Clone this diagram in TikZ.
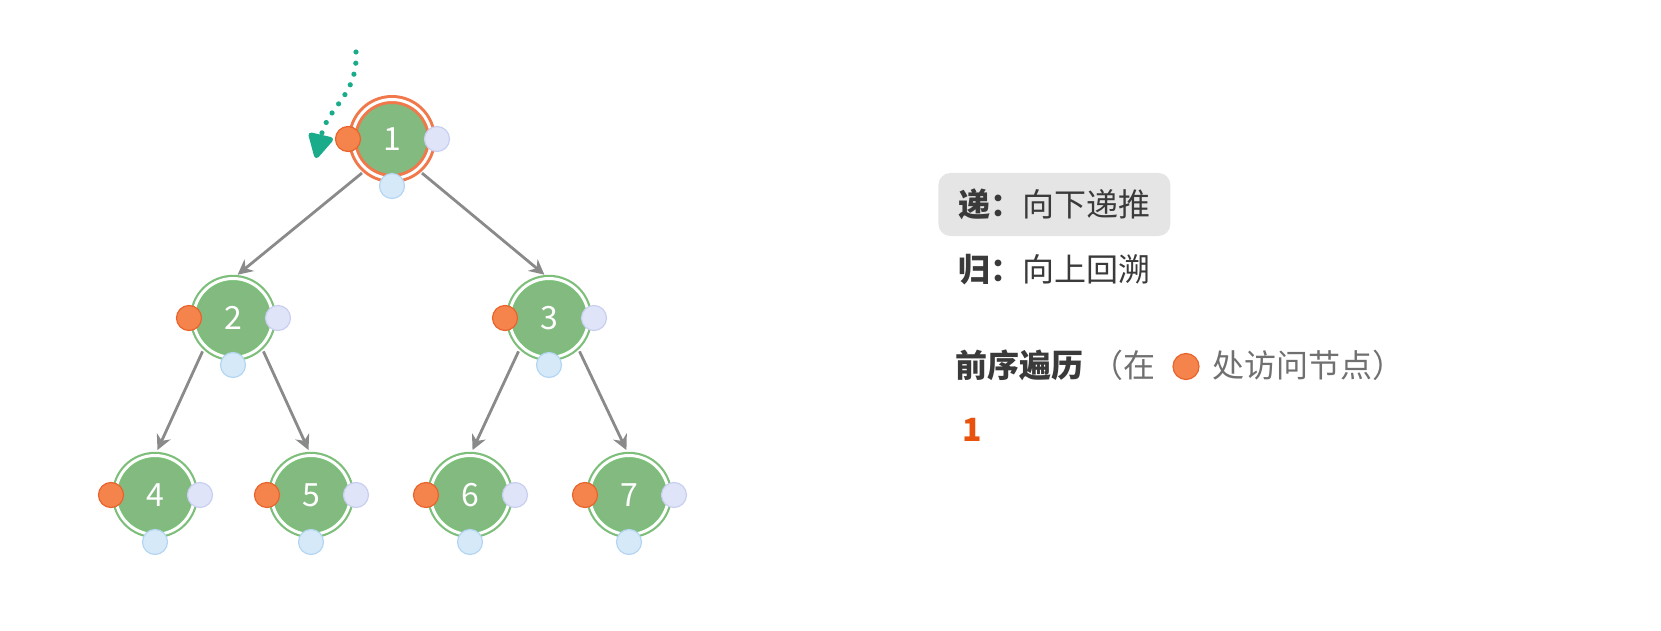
\documentclass[tikz,border=0pt]{standalone}
\usepackage{fontspec}
\newfontfamily\cjk{Noto Sans CJK SC}
\usetikzlibrary{positioning,arrows.meta}

\definecolor{nodegreen}{RGB}{130,186,128}
\definecolor{ringgreen}{RGB}{125,190,122}
\definecolor{ringorange}{RGB}{240,120,75}
\definecolor{dotorange}{RGB}{245,132,76}
\definecolor{dotorangeb}{RGB}{232,100,44}
\definecolor{dotlav}{RGB}{224,228,248}
\definecolor{dotlavb}{RGB}{201,207,240}
\definecolor{dotblue}{RGB}{214,233,248}
\definecolor{dotblueb}{RGB}{180,214,242}
\definecolor{edgegray}{RGB}{138,138,138}
\definecolor{walkteal}{RGB}{26,172,138}
\definecolor{boxgray}{RGB}{229,229,229}
\definecolor{textdark}{RGB}{58,58,58}
\definecolor{textgray}{RGB}{112,112,112}
\definecolor{resorange}{RGB}{232,82,12}

\begin{document}
\begin{tikzpicture}[x=0.5pt,y=-0.5pt,on grid,
  font=\cjk\fontsize{16pt}{19pt}\selectfont,
  main/.style = {circle, fill=nodegreen, draw=ringgreen, double=white, double distance=1.5pt, line width=1.1pt, minimum size=39.5pt, inner sep=0pt, outer sep=0pt, text=white},
  cur/.style = {main, draw=ringorange, line width=1.5pt},
  predot/.style = {circle, fill=dotorange, draw=dotorangeb, line width=0.6pt, minimum size=12.5pt, inner sep=0pt},
  indot/.style = {predot, fill=dotlav, draw=dotlavb},
  postdot/.style = {predot, fill=dotblue, draw=dotblueb},
  link/.style = {draw=edgegray, line width=1.4pt, -{Stealth[length=7.5pt,width=7.5pt]}, shorten <=3pt, shorten >=3pt},
  hl/.style = {fill=boxgray, rounded corners=6pt, inner xsep=10pt, inner ysep=0pt, minimum height=31.5pt, text=textdark}]
\useasboundingbox (0,0) rectangle (1661,631);

\node[cur] (n1) at (392,139) {1};
\node[main] (n2) [below left=89.5pt and 79.5pt of n1] {2};
\node[main] (n3) [below right=89.5pt and 78.5pt of n1] {3};
\node[main] (n4) [below left=88.5pt and 39pt of n2] {4};
\node[main] (n5) [below right=88.5pt and 39pt of n2] {5};
\node[main] (n6) [below left=88.5pt and 39.5pt of n3] {6};
\node[main] (n7) [below right=88.5pt and 40pt of n3] {7};

% dots: before / between / after the children
\node[predot] (pre1) at ([xshift=-22pt]n1.center) {};
\node[indot] (in1) at ([xshift=22.5pt]n1.center) {};
\node[postdot] (post1) at ([yshift=-23.5pt]n1.center) {};
\node[predot] (pre2) at ([xshift=-22pt]n2.center) {};
\node[indot] (in2) at ([xshift=22.5pt]n2.center) {};
\node[postdot] (post2) at ([yshift=-23.5pt]n2.center) {};
\node[predot] (pre3) at ([xshift=-22pt]n3.center) {};
\node[indot] (in3) at ([xshift=22.5pt]n3.center) {};
\node[postdot] (post3) at ([yshift=-23.5pt]n3.center) {};
\node[predot] (pre4) at ([xshift=-22pt]n4.center) {};
\node[indot] (in4) at ([xshift=22.5pt]n4.center) {};
\node[postdot] (post4) at ([yshift=-23.5pt]n4.center) {};
\node[predot] (pre5) at ([xshift=-22pt]n5.center) {};
\node[indot] (in5) at ([xshift=22.5pt]n5.center) {};
\node[postdot] (post5) at ([yshift=-23.5pt]n5.center) {};
\node[predot] (pre6) at ([xshift=-22pt]n6.center) {};
\node[indot] (in6) at ([xshift=22.5pt]n6.center) {};
\node[postdot] (post6) at ([yshift=-23.5pt]n6.center) {};
\node[predot] (pre7) at ([xshift=-22pt]n7.center) {};
\node[indot] (in7) at ([xshift=22.5pt]n7.center) {};
\node[postdot] (post7) at ([yshift=-23.5pt]n7.center) {};

\path
    (n1.-130) edge[link] (n2.north)
    (n1.-50) edge[link] (n3.north)
    (n2.-135) edge[link] (n4.north)
    (n2.-45) edge[link] (n5.north)
    (n3.-135) edge[link] (n6.north)
    (n3.-45) edge[link] (n7.north);

% walk pointer
\coordinate (from) at (356,52);
\coordinate (tip) at (316,158);
\draw[walkteal, line width=2.6pt, line cap=round, dash pattern=on 0pt off 5.6pt,
  -{Triangle[length=13.5pt,width=13.5pt,round=false]}]
  (from) .. controls (358,96) and (328,106) .. (tip);

% legend
\node[hl, anchor=west] (down) at (938,204.5) {\textbf{递：}向下递推};
\node[anchor=west, inner sep=0pt, text=textdark] (up) at (958,270) {\textbf{归：}向上回溯};
\node[anchor=west, inner sep=0pt, text=textdark] (order) at (955,365) {\textbf{前序遍历}\hspace{4pt}\textcolor{textgray}{（在}};
\node[predot, minimum size=13pt] (key) at (1186,366.5) {};
\node[anchor=west, inner sep=0pt, text=textgray] (tail) at (1212,365) {处访问节点）};
\node[anchor=west, inner sep=0pt, text=resorange, font=\cjk\bfseries\fontsize{16pt}{19pt}\selectfont] (res) at (962,430) {1};
\end{tikzpicture}
\end{document}
